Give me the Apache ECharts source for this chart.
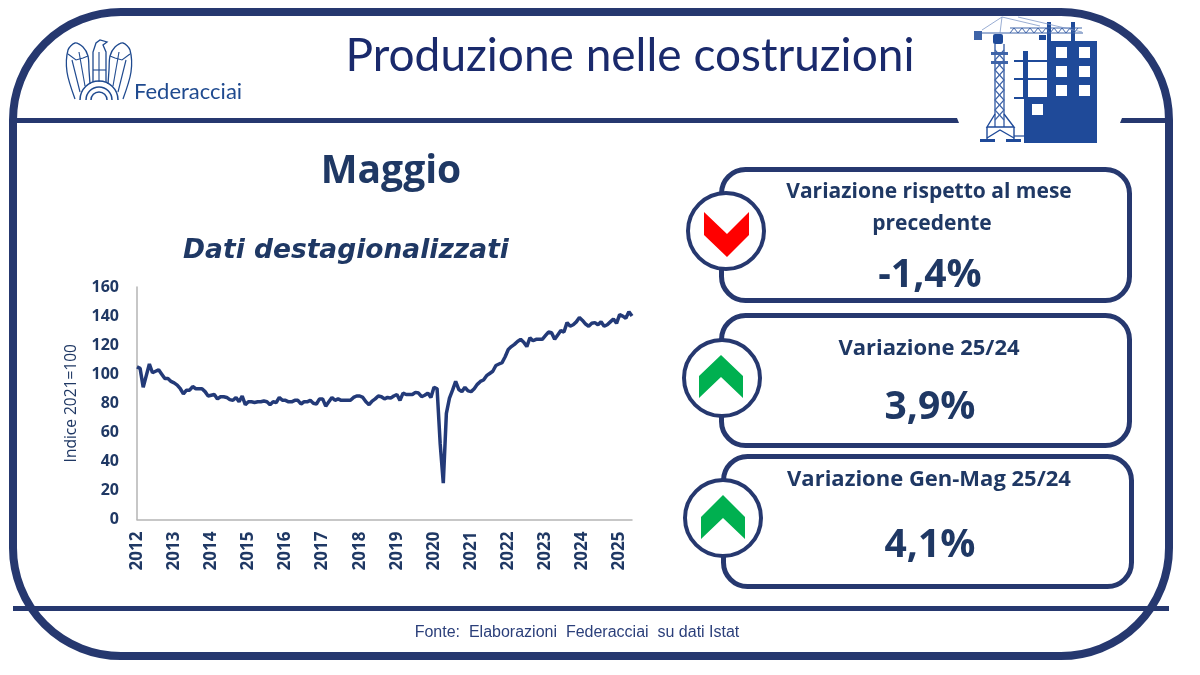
<!DOCTYPE html>
<html>
<head>
<meta charset="utf-8">
<title>Produzione nelle costruzioni</title>
<script src="https://cdn.jsdelivr.net/npm/echarts@6/dist/echarts.min.js"></script>
<style>
  html, body { margin: 0; padding: 0; background: #fff; }
  #main { width: 1200px; height: 675px; }
</style>
</head>
<body>
<div id="main"></div>
<script>
// dati
var anni = ['2012', '2013', '2014', '2015', '2016', '2017', '2018', '2019', '2020', '2021', '2022', '2023', '2024', '2025'];
var mesi = ['01', '02', '03', '04', '05', '06', '07', '08', '09', '10', '11', '12'];
var produzione = [
  105, 104, 91, 99, 107, 101, 102, 103, 100, 97, 97, 95,
  94, 92.5, 90, 86.5, 89, 89, 91.5, 90, 90, 90, 88, 85,
  85.5, 86, 83, 84.5, 84.5, 84, 82.5, 82, 84, 81, 85, 79,
  81, 81, 80.5, 81, 81, 81.5, 81, 79, 81, 80.5, 84, 82,
  82, 81, 81, 82, 82, 79.5, 81, 81, 82, 80, 79.5, 83,
  83, 78, 81, 84, 82, 83, 82, 82, 82, 82, 84, 85,
  85, 84, 81, 79, 81.5, 83, 85, 84.5, 83, 84, 83.5, 85,
  86, 82, 87, 86, 86, 86, 87.5, 87, 84.5, 85.5, 87, 84,
  91, 90, 52, 25, 73, 83.5, 89, 95, 89.5, 88, 91, 88.5,
  88, 90, 93, 95, 96, 99, 100.5, 102, 106, 107, 108, 112,
  117, 119, 120.5, 122.5, 124, 122, 119, 125, 123, 124, 124, 124,
  126.5, 129, 128.5, 124, 127, 130, 129, 135.5, 133, 134, 136, 139,
  137, 134.5, 133, 135, 135.5, 134, 136, 133, 134, 136, 138, 135,
  141, 140, 138.5, 143, 140
];
var tickY = [0, 160, 20];

var titolo = 'Produzione nelle costruzioni';
var mese = 'Maggio';
var sottotitolo = 'Dati destagionalizzati';
var fonte = 'Fonte:  Elaborazioni  Federacciai  su dati Istat';
var nomeAsse = 'Indice 2021=100';

var blu = '#26386f';
var bluTesto = '#1f3864';
var bluEdificio = '#1f4a99';
var bluLogo = '#1f4a8f';
var bluGru = '#3f64a8';

var categorie = [];
anni.forEach(function (a) {
  mesi.forEach(function (m) {
    if (categorie.length < produzione.length) categorie.push(a + '-' + m);
  });
});

var myChart = echarts.init(document.getElementById('main'));

function testo(t, x, y, size, weight, opts) {
  opts = opts || {};
  return {
    type: 'text', x: x, y: y, z: 20,
    style: {
      text: t, fill: opts.fill || bluTesto,
      font: (opts.italic ? 'italic ' : '') + weight + ' ' + size + 'px ' + (opts.family || '"Open Sans"'),
      textAlign: opts.align || 'center', textVerticalAlign: 'middle'
    }
  };
}
function rett(x, y, w, h, fill, r) {
  return { type: 'rect', z: 5, shape: { x: x, y: y, width: w, height: h, r: r || 0 }, style: { fill: fill } };
}
function linea(punti, color, width, smooth) {
  return { type: 'polyline', z: 6, shape: { points: punti, smooth: smooth || 0 }, style: { fill: 'none', stroke: color, lineWidth: width } };
}
function arco(cx, cy, r, color, width) {
  return { type: 'arc', z: 6, shape: { cx: cx, cy: cy, r: r, startAngle: Math.PI, endAngle: 0, clockwise: true }, style: { fill: 'none', stroke: color, lineWidth: width } };
}
function cartella(x, y, w, h) {
  return { type: 'rect', z: 3, shape: { x: x, y: y, width: w, height: h, r: 24 }, style: { fill: '#fff', stroke: blu, lineWidth: 5 } };
}
function cerchio(cx, cy, r) {
  return { type: 'circle', z: 4, shape: { cx: cx, cy: cy, r: r }, style: { fill: '#fff', stroke: blu, lineWidth: 4 } };
}
function freccia(p, color) {
  return { type: 'polygon', z: 7, shape: { points: p }, style: { fill: color } };
}

var grafica = [
  // cornice
  { type: 'rect', z: 1, shape: { x: 13, y: 12, width: 1156, height: 644, r: 108 }, style: { fill: 'none', stroke: blu, lineWidth: 8 } },
  { type: 'polygon', z: 2, shape: { points: [[13, 118], [957, 118], [959, 123], [13, 123]] }, style: { fill: blu } },
  { type: 'polygon', z: 2, shape: { points: [[1122, 118], [1169, 118], [1169, 123], [1120, 123]] }, style: { fill: blu } },
  rett(13, 606, 1156, 5, blu),

  testo(titolo, 630, 56, 46, 400, { family: 'Lato', fill: '#1a2a6c' }),
  testo(mese, 391, 172, 39, 700),
  testo(sottotitolo, 346, 251, 26.5, 700, { italic: true, family: '"DejaVu Sans"' }),
  testo(fonte, 577, 633, 16, 400, { family: '"Liberation Sans"', fill: '#2b3f7a' }),
  testo('Federacciai', 134, 92, 22, 400, { family: 'Lato', fill: bluLogo, align: 'left' }),

  // logo
  linea([[75, 99], [67, 72], [68, 50], [75, 43], [83, 47], [88, 56], [89, 70], [90, 84]], bluLogo, 1.3, 0.3),
  linea([[123, 99], [131, 72], [130, 50], [123, 43], [115, 47], [110, 56], [109, 70], [108, 84]], bluLogo, 1.3, 0.3),
  linea([[93, 82], [93, 52], [96, 43], [100, 40], [107, 42], [103, 45], [106, 52], [106, 82]], bluLogo, 1.3),
  linea([[72, 60], [80, 92]], bluLogo, 1.1),
  linea([[79, 52], [85, 86]], bluLogo, 1.1),
  linea([[68, 54], [76, 60], [83, 58], [88, 56]], bluLogo, 1.1),
  linea([[126, 60], [118, 92]], bluLogo, 1.1),
  linea([[119, 52], [113, 86]], bluLogo, 1.1),
  linea([[130, 54], [122, 60], [115, 58], [110, 56]], bluLogo, 1.1),
  linea([[99, 52], [99, 82]], bluLogo, 1.1),
  linea([[93, 70], [106, 70]], bluLogo, 1.1),
  arco(99, 100, 8, bluLogo, 1.5),
  arco(99, 100, 13, bluLogo, 1.5),
  arco(99, 100, 19, bluLogo, 1.5),

  // carte a destra
  cartella(721.5, 169.5, 408, 131),
  cartella(721.5, 315.5, 408, 130),
  cartella(723.5, 456.5, 408, 130),
  cerchio(726, 231, 38),
  cerchio(722, 378, 38),
  cerchio(723, 518, 38),
  freccia([[704, 212], [727, 234], [749, 212], [749, 235], [727, 257], [704, 235]], '#ff0000'),
  freccia([[699, 376], [721, 355], [743, 376], [743, 398], [721, 377], [699, 398]], '#00b050'),
  freccia([[701, 517], [723, 495], [745, 517], [745, 539], [723, 518], [701, 539]], '#00b050'),
  testo('Variazione rispetto al mese', 929, 192, 21, 700),
  testo('precedente', 932, 224, 21, 700),
  testo('-1,4%', 930, 276, 39, 700),
  testo('Variazione 25/24', 929, 349, 22, 700),
  testo('3,9%', 930, 408, 39, 700),
  testo('Variazione Gen-Mag 25/24', 929, 480, 22, 700),
  testo('4,1%', 930, 546, 39, 700),

  // edificio
  rett(1047, 41, 50, 102, bluEdificio),
  rett(1024, 98, 24, 45, bluEdificio),
  rett(1023, 51, 5, 48, bluEdificio),
  rett(1047, 22, 4, 20, bluEdificio),
  rett(1071, 22, 4, 20, bluEdificio),
  rett(1014, 60, 34, 2, bluEdificio),
  rett(1014, 78, 34, 2, bluEdificio),
  rett(1014, 97, 34, 2, bluEdificio),
  rett(1056, 47, 11, 11, '#fff'), rett(1079, 47, 11, 11, '#fff'),
  rett(1056, 66, 11, 11, '#fff'), rett(1079, 66, 11, 11, '#fff'),
  rett(1056, 85, 11, 11, '#fff'), rett(1079, 85, 11, 11, '#fff'),
  rett(1032, 104, 11, 11, '#fff'),

  // gru
  linea([[995, 44], [995, 127]], bluGru, 1.4),
  linea([[1004, 44], [1004, 127]], bluGru, 1.4),
  linea([[995, 50], [1004, 60], [995, 70], [1004, 80], [995, 90], [1004, 100], [995, 110], [1004, 120]], bluGru, 1.2),
  linea([[1004, 50], [995, 60], [1004, 70], [995, 80], [1004, 90], [995, 100], [1004, 110], [995, 120]], bluGru, 1.2),
  rett(991, 52, 17, 3, bluGru),
  rett(991, 61, 17, 3, bluGru),
  linea([[995, 114], [987, 127], [1014, 127], [1004, 114]], bluEdificio, 1.4),
  linea([[987, 127], [987, 140]], bluEdificio, 1.4),
  linea([[1014, 127], [1014, 140]], bluEdificio, 1.4),
  linea([[987, 138], [1000, 130], [1014, 138]], bluEdificio, 1.4),
  linea([[1014, 136], [1024, 136]], bluEdificio, 1.2),
  linea([[982, 33], [1083, 33]], bluGru, 1),
  linea([[1010, 28], [1082, 28]], bluGru, 1),
  linea([[1010, 33], [1014, 28], [1018, 33], [1022, 28], [1026, 33], [1030, 28], [1034, 33], [1038, 28], [1042, 33], [1046, 28], [1050, 33], [1054, 28], [1058, 33], [1062, 28], [1066, 33], [1070, 28], [1074, 33], [1078, 28]], bluGru, 1),
  linea([[982, 30], [1002, 17], [1000, 33]], '#7f98c8', 0.8),
  linea([[1002, 17], [1040, 26]], '#7f98c8', 0.8),
  linea([[1018, 17], [1082, 32]], '#7f98c8', 0.8),
  rett(974, 31, 8, 9, bluGru),
  rett(993, 34, 10, 10, bluEdificio, 2),
  rett(1039, 35, 7, 5, bluEdificio),
  rett(980, 139, 15, 3, bluEdificio),
  rett(1006, 139, 15, 3, bluEdificio)
];

// opzioni del grafico
var option = {
  animation: false,
  backgroundColor: '#fff',
  grid: { left: 137, right: 568, top: 287, bottom: 155.5 },
  xAxis: {
    type: 'category',
    data: categorie,
    boundaryGap: false,
    axisLine: { lineStyle: { color: '#b5b5b5', width: 1.5 } },
    axisTick: { show: false },
    axisLabel: {
      interval: 11,
      rotate: 90,
      margin: 12,
      color: bluTesto,
      fontFamily: 'Open Sans',
      fontWeight: 'bold',
      fontSize: 17,
      formatter: function (v) { return v.slice(0, 4); }
    }
  },
  yAxis: {
    type: 'value',
    min: tickY[0],
    max: tickY[1],
    interval: tickY[2],
    name: nomeAsse,
    nameLocation: 'middle',
    nameGap: 57,
    nameTextStyle: { color: bluTesto, fontFamily: 'Open Sans', fontSize: 15.5 },
    axisLine: { show: true, lineStyle: { color: '#b5b5b5', width: 1.5 } },
    axisTick: { show: false },
    splitLine: { show: false },
    axisLabel: { margin: 18, color: bluTesto, fontFamily: 'Open Sans', fontWeight: 'bold', fontSize: 16 }
  },
  series: [{
    type: 'line',
    data: produzione,
    symbol: 'none',
    lineStyle: { color: '#233a78', width: 3.5 }
  }],
  graphic: grafica
};
myChart.setOption(option);
</script>
</body>
</html>
